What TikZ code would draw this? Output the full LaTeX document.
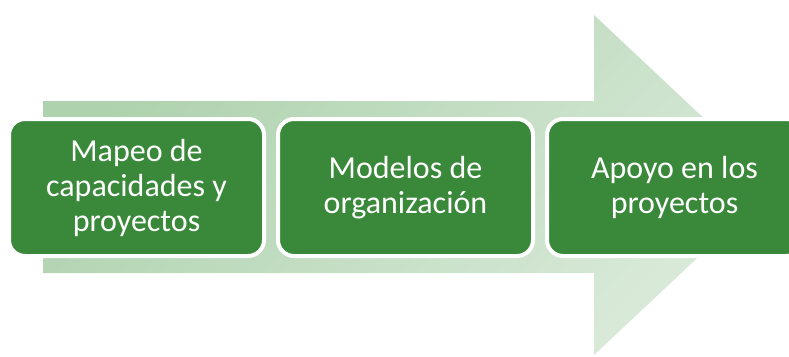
\documentclass[tikz,border=0pt]{standalone}
\usepackage{fontspec}
\setmainfont{Carlito}
\usetikzlibrary{positioning}
\definecolor{stagegreen}{RGB}{58,137,58}
\definecolor{flowdark}{RGB}{174,210,174}
\definecolor{flowlight}{RGB}{218,234,218}
\tikzset{stage/.style={draw=white, line width=4pt, fill=stagegreen, rounded corners=16pt,
    minimum width=255pt, minimum height=137pt, text=white, align=center,
    font=\fontsize{32}{35}\selectfont}}
\tikzset{flow arrow/.style={top color=flowdark, bottom color=flowlight, shading angle=45}}

\begin{document}
\begin{tikzpicture}[x=1pt, y=-1pt, node distance=10pt]
    \useasboundingbox (0,0) rectangle (789,356);
    \clip (0,0) rectangle (789,356);
    \shade[flow arrow] (43,101) -- (594,101) -- (594,15) -- (775,185)
        -- (594,355) -- (594,273) -- (43,273) -- cycle;
    \node[stage] (mapeo) at (136.5,187.5) {Mapeo de\\capacidades y\\proyectos};
    \node[stage, right=of mapeo] (modelos) {Modelos de\\organización};
    \node[stage, right=of modelos] (apoyo) {Apoyo en los\\proyectos};
    
    % \draw[help lines] (0,0) grid (789,356);
\end{tikzpicture}
\end{document}
